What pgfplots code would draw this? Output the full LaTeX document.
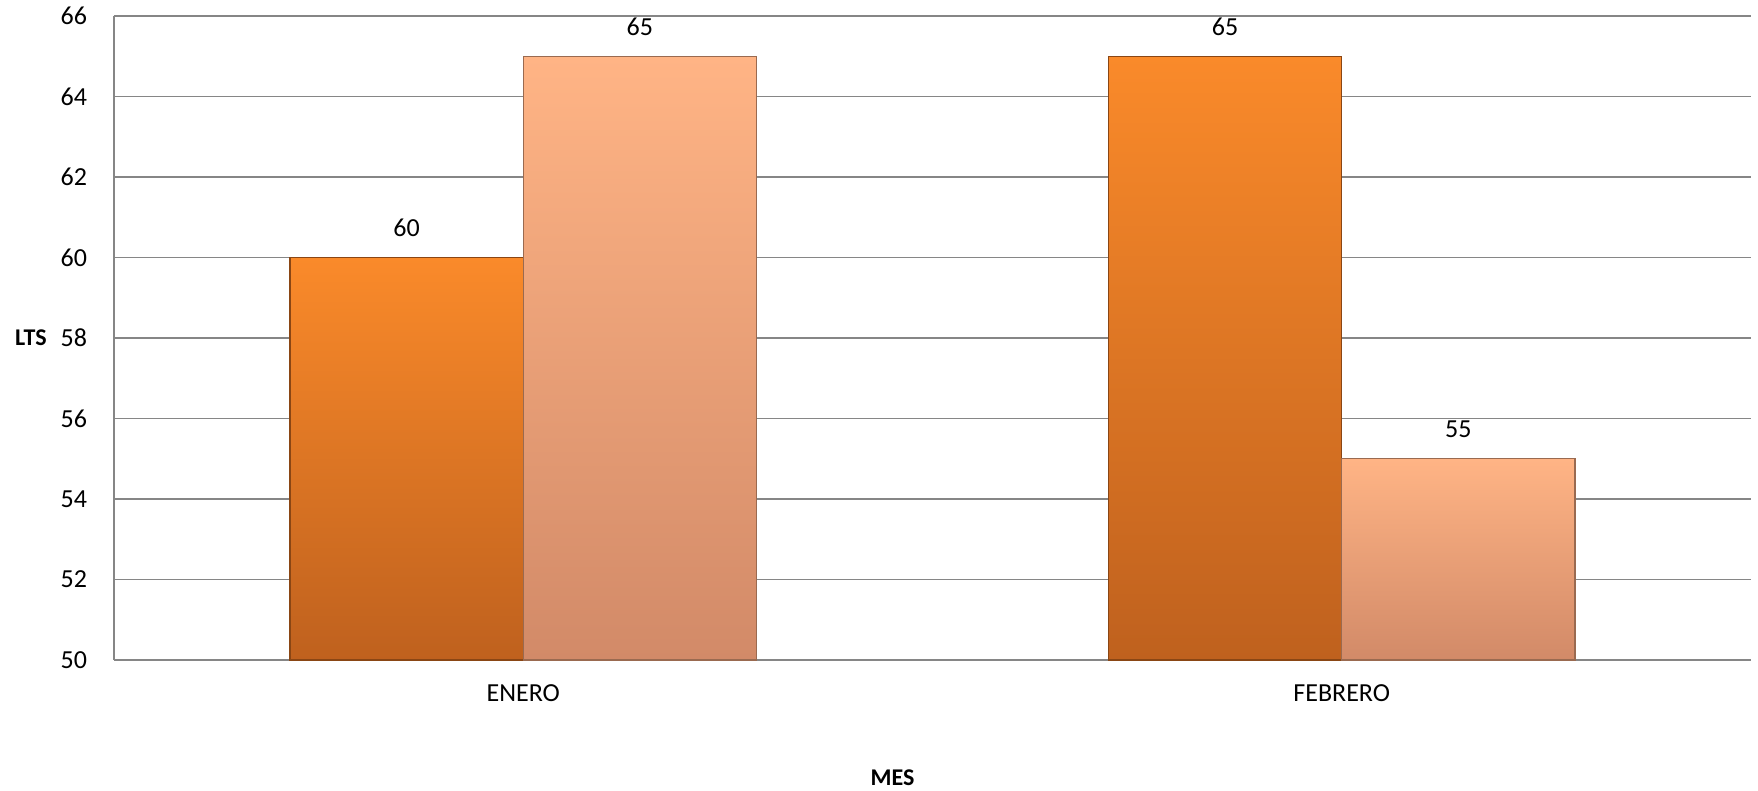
\documentclass[border=0pt]{standalone}
\usepackage{pgfplots}
\pgfplotsset{compat=1.18}
\usepackage{fontspec}
\setmainfont{Carlito}
\definecolor{gridgray}{HTML}{868686}
\definecolor{darktop}{HTML}{FA8A2A}
\definecolor{darkbot}{HTML}{BF611E}
\definecolor{lighttop}{HTML}{FFB485}
\definecolor{lightbot}{HTML}{D28A68}
\definecolor{darkedge}{HTML}{8A4614}
\definecolor{lightedge}{HTML}{9A6A50}
\begin{document}
\begin{tikzpicture}
\useasboundingbox (0,0) rectangle (879pt,395.5pt);
\begin{axis}[
  at={(57pt,65.5pt)}, anchor=south west,
  scale only axis,
  width=818.5pt, height=322pt,
  xmin=-0.5, xmax=1.5,
  ymin=50, ymax=66,
  ytick={50,52,...,66},
  xtick={0,1},
  xticklabels={ENERO,FEBRERO},
  major tick length=0pt,
  axis x line*=bottom, axis y line*=left,
  axis line style={draw=gridgray, line width=0.8pt, -},
  ymajorgrids,
  grid style={draw=gridgray, line width=0.8pt},
  tick label style={font=\fontsize{13}{15}\selectfont, text=black},
  /pgf/number format/assume math mode=true,
  yticklabel style={xshift=-10pt},
  xticklabel style={yshift=-9pt},
  every axis y label/.style={at={(axis description cs:0,0.5)}, anchor=center, xshift=-41.5pt, font=\bfseries\fontsize{12}{14}\selectfont},
  every axis x label/.style={at={(axis description cs:0.5,0)}, anchor=center, xshift=-20pt, yshift=-59pt, font=\bfseries\fontsize{12}{14}\selectfont},
  ylabel={LTS}, xlabel={MES},
  ybar, bar width=116.6pt,
  nodes near coords,
  every node near coord/.append style={font=\fontsize{13}{15}\selectfont, text=black, anchor=south, inner sep=0pt, yshift=10pt},
  clip=false,
]
\addplot[bar shift=-58.3pt, draw=darkedge, line width=0.6pt, top color=darktop, bottom color=darkbot] coordinates {(0,60)};
\addplot[bar shift=-58.3pt, draw=darkedge, line width=0.6pt, top color=darktop, bottom color=darkbot] coordinates {(1,65)};
\addplot[bar shift=58.3pt, draw=lightedge, line width=0.6pt, top color=lighttop, bottom color=lightbot] coordinates {(0,65)};
\addplot[bar shift=58.3pt, draw=lightedge, line width=0.6pt, top color=lighttop, bottom color=lightbot] coordinates {(1,55)};
\end{axis}
\end{tikzpicture}
\end{document}
